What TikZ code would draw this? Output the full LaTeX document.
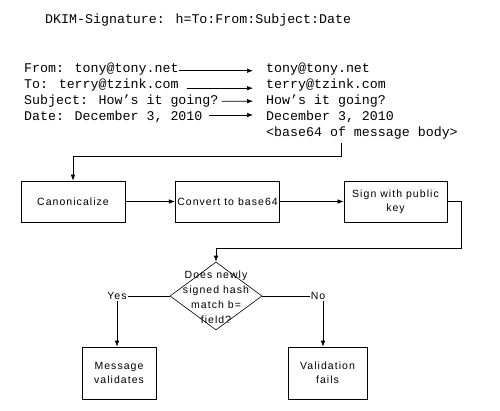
\documentclass[tikz,border=0pt]{standalone}
\usepackage{fontspec}
\setmainfont{Liberation Sans}
\newfontfamily\monof{Liberation Mono}
\newfontfamily\boxf[LetterSpace=10]{Liberation Sans}
\usetikzlibrary{arrows.meta,shapes.geometric}
\tikzset{
  mono/.style={font=\monof\fontsize{13.3}{16}\selectfont, inner sep=0pt, anchor=mid west},
  arr/.style={-{Latex[length=6pt,width=4.5pt]}, line width=0.6pt},
  ln/.style={line width=0.6pt},
  flowbox/.style={draw, line width=0.7pt, minimum height=41pt, inner sep=2pt, align=center,
    font=\boxf\fontsize{10.5}{14}\selectfont},
  lbl/.style={font=\boxf\fontsize{10.5}{14}\selectfont, inner sep=1pt, align=center}
}
\begin{document}
\begin{tikzpicture}[x=1pt,y=-1pt]
\useasboundingbox (0,0) rectangle (500,410);
\node[mono] (title) at (45,21) {DKIM-Signature: h=To:From:Subject:Date};
\node[mono] (lfrom) at (24,70) {From: tony@tony.net};
\node[mono] (lto) at (24,86) {To: terry@tzink.com};
\node[mono] (lsub) at (24,102) {Subject: How’s it going?};
\node[mono] (ldate) at (24,118) {Date: December 3, 2010};
\node[mono] (rfrom) at (266,70) {tony@tony.net};
\node[mono] (rto) at (266,86) {terry@tzink.com};
\node[mono] (rsub) at (266,102) {How’s it going?};
\node[mono] (rdate) at (266,118) {December 3, 2010};
\node[mono] (rbody) at (266,134) {<base64 of message body>};
\draw[arr] ([yshift=-1.5pt]lfrom.east) -- ([xshift=-13pt,yshift=-1.5pt]rfrom.west);
\draw[arr] ([xshift=8pt,yshift=-3pt]lto.east) -- ([xshift=-13pt,yshift=-3pt]rto.west);
\draw[arr] ([xshift=3pt]lsub.east) -- ([xshift=-13pt]rsub.west);
\draw[arr] ([xshift=6pt,yshift=2pt]ldate.east) -- ([xshift=-13pt,yshift=2pt]rdate.west);

\node[flowbox, minimum width=104pt] (canon) at (73,201.5) {Canonicalize};
\node[flowbox, minimum width=103pt] (conv) at (227.5,201.5) {Convert to base64};
\node[flowbox, minimum width=103pt] (sign) at (395.5,201.5) {Sign with public\\key};
\coordinate (b1) at (341,143);
\coordinate (b2) at (341,156);
\draw[arr] (b1) -- (b2) -| (canon.north);
\draw[arr] (canon.east) -- (conv.west);
\draw[arr] (conv.east) -- (sign.west);

\node[draw, diamond, line width=0.6pt, minimum width=92pt, minimum height=68pt, inner sep=0pt] (dia) at (216,296) {};
\node[lbl, font=\boxf\fontsize{10.5}{15}\selectfont] (diat) at (216,297) {Does newly\\signed hash\\match b=\\field?};
\coordinate (c2) at (461,248);
\draw[arr] (sign.east) -| (c2) -| (dia.north);

\node[lbl] (yes) at (117,296) {Yes};
\node[lbl] (no) at (318,296) {No};
\draw[ln] (dia.west) -- (yes.east);
\draw[ln] (dia.east) -- (no.west);
\node[flowbox, minimum width=74pt, minimum height=52pt] (msg) at (119,373) {Message\\validates};
\node[flowbox, minimum width=79pt, minimum height=52pt] (fail) at (327.5,373) {Validation\\fails};
\draw[arr] (yes.south) -- (yes.south |- msg.north);
\draw[arr] ([xshift=5pt]no.south) -- ([xshift=5pt]no.south |- fail.north);
\end{tikzpicture}
\end{document}
